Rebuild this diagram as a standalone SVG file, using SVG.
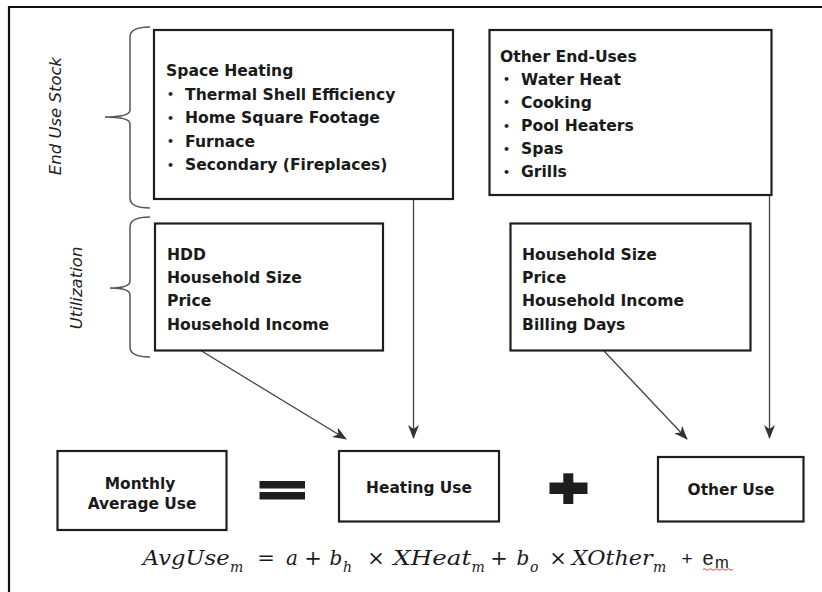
<svg xmlns="http://www.w3.org/2000/svg" width="822" height="592" viewBox="0 0 822 592">
<style>
.box{fill:#fff;stroke:#1e1e1e;stroke-width:2.2}
.t{font-family:"DejaVu Sans",Verdana,sans-serif;font-weight:bold;font-size:15.6px;fill:#1a1a1a}
.b{font-family:"DejaVu Sans",Verdana,sans-serif;font-weight:bold;font-size:11px;fill:#1a1a1a}
.tc{font-family:"DejaVu Sans",Verdana,sans-serif;font-weight:bold;font-size:15.4px;fill:#1a1a1a;text-anchor:middle}
.lab{font-family:"DejaVu Sans",Verdana,sans-serif;font-style:italic;font-size:16.5px;fill:#222;text-anchor:middle}
.brace{fill:none;stroke:#555;stroke-width:1.5}
.conn{fill:none;stroke:#444;stroke-width:1.3}
.eq{font-family:"DejaVu Serif","Liberation Serif",serif;font-style:italic;font-size:20px;fill:#1a1a1a}
.eqs{font-family:"DejaVu Serif","Liberation Serif",serif;font-style:italic;font-size:14px;fill:#1a1a1a}
.op{font-family:"DejaVu Serif","Liberation Serif",serif;font-size:21px;fill:#1a1a1a;text-anchor:middle}
.sans{font-family:"Liberation Sans",Arial,sans-serif;fill:#1a1a1a}
</style>
<defs>
<marker id="ah" markerUnits="userSpaceOnUse" viewBox="0 0 14 12" markerWidth="14" markerHeight="12" refX="13" refY="6" orient="auto">
<path d="M0,0.5 L14,6 L0,11.5 L4,6 z" fill="#333"/>
</marker>
</defs>
<rect width="822" height="592" fill="#fff"/>
<g id="frame">
<path d="M9,592 L9,7 L822,7" fill="none" stroke="#111" stroke-width="2.2"/>
</g>
<g id="braces">
<path class="brace" d="M150,27 Q130,27 130,37 L130,110 Q130,117 105,117 Q130,117 130,124 L130,198 Q130,208 150,208"/>
<path class="brace" d="M150,217 Q130,217 130,227 L130,281 Q130,288 110,288 Q130,288 130,295 L130,347 Q130,357 150,357"/>
</g>
<g id="label-stock">
<text class="lab" transform="translate(61,116) rotate(-90)">End Use Stock</text>
</g>
<g id="label-util">
<text class="lab" transform="translate(81.5,288) rotate(-90)">Utilization</text>
</g>
<g id="connectors">
<line class="conn" x1="413.5" y1="199" x2="413.5" y2="438" marker-end="url(#ah)"/>
<line class="conn" x1="769.5" y1="195" x2="769.5" y2="438" marker-end="url(#ah)"/>
<line class="conn" x1="200" y1="350" x2="346" y2="439" marker-end="url(#ah)"/>
<line class="conn" x1="604" y1="351" x2="687" y2="439" marker-end="url(#ah)"/>
</g>
<g id="space-heating">
<rect class="box" x="154" y="30" width="299" height="169"/>
<text class="t" x="166" y="76">Space Heating</text>
<text class="b" x="167" y="98">•</text><text class="t" x="185" y="99.5">Thermal Shell Efficiency</text>
<text class="b" x="167" y="121.5">•</text><text class="t" x="185" y="123">Home Square Footage</text>
<text class="b" x="167" y="145">•</text><text class="t" x="185" y="146.5">Furnace</text>
<text class="b" x="167" y="168.5">•</text><text class="t" x="185" y="170">Secondary (Fireplaces)</text>
</g>
<g id="other-end-uses">
<rect class="box" x="489.5" y="30" width="282" height="165"/>
<text class="t" x="500" y="61.5">Other End-Uses</text>
<text class="b" x="503" y="83">•</text><text class="t" x="521" y="84.5">Water Heat</text>
<text class="b" x="503" y="106">•</text><text class="t" x="521" y="107.5">Cooking</text>
<text class="b" x="503" y="129.5">•</text><text class="t" x="521" y="131">Pool Heaters</text>
<text class="b" x="503" y="152.5">•</text><text class="t" x="521" y="154">Spas</text>
<text class="b" x="503" y="175.5">•</text><text class="t" x="521" y="177">Grills</text>
</g>
<g id="util-heating">
<rect class="box" x="155" y="223.5" width="228" height="127"/>
<text class="t" x="167" y="260">HDD</text>
<text class="t" x="167" y="283">Household Size</text>
<text class="t" x="167" y="306">Price</text>
<text class="t" x="167" y="329.5">Household Income</text>
</g>
<g id="util-other">
<rect class="box" x="510.5" y="223.5" width="240" height="127"/>
<text class="t" x="522" y="260">Household Size</text>
<text class="t" x="522" y="283">Price</text>
<text class="t" x="522" y="306">Household Income</text>
<text class="t" x="522" y="329.5">Billing Days</text>
</g>
<g id="monthly-average-use">
<rect class="box" x="57.5" y="451" width="169" height="79"/>
<text class="tc" x="140" y="488.5">Monthly</text>
<text class="tc" x="142" y="508.5">Average Use</text>
</g>
<g id="equals">
<rect x="259.5" y="481" width="45.5" height="7.5" fill="#1e1e1e"/>
<rect x="259.5" y="492" width="45.5" height="7.5" fill="#1e1e1e"/>
</g>
<g id="heating-use">
<rect class="box" x="339" y="451" width="160" height="70.5"/>
<text class="tc" x="419" y="493">Heating Use</text>
</g>
<g id="plus">
<rect x="549.5" y="482.5" width="38" height="11.5" fill="#1e1e1e"/>
<rect x="563.3" y="473.3" width="10" height="30.7" fill="#1e1e1e"/>
</g>
<g id="other-use">
<rect class="box" x="658" y="457" width="145.5" height="64.5"/>
<text class="tc" x="731" y="495">Other Use</text>
</g>
<g id="equation">
<text class="eq" x="142.7" y="565" textLength="87" lengthAdjust="spacingAndGlyphs">AvgUse</text>
<text class="eqs" x="230" y="572">m</text>
<text class="op" x="266" y="565">=</text>
<text class="eq" x="286" y="565">a</text>
<text class="op" x="313" y="565">+</text>
<text class="eq" x="329.5" y="565">b</text>
<text class="eqs" x="343" y="572">h</text>
<text class="op" x="376" y="565">×</text>
<text class="eq" x="393.3" y="565" textLength="78" lengthAdjust="spacingAndGlyphs">XHeat</text>
<text class="eqs" x="471.5" y="572">m</text>
<text class="op" x="499" y="565">+</text>
<text class="eq" x="516.5" y="565">b</text>
<text class="eqs" x="530" y="572">o</text>
<text class="op" x="558" y="565">×</text>
<text class="eq" x="571.7" y="565" textLength="81" lengthAdjust="spacingAndGlyphs">XOther</text>
<text class="eqs" x="653" y="572">m</text>
<text class="sans" x="681.5" y="565" font-size="19">+</text>
<text class="sans" x="702.5" y="565" font-size="20">e</text>
<text class="sans" x="715" y="568" font-size="16.5">m</text>
<path d="M703,569.5 q1.5,-1.5 3,0 t3,0 t3,0 t3,0 t3,0 t3,0 t3,0 t3,0 t3,0 t3,0" fill="none" stroke="#d33" stroke-width="0.9"/>
</g>
</svg>
